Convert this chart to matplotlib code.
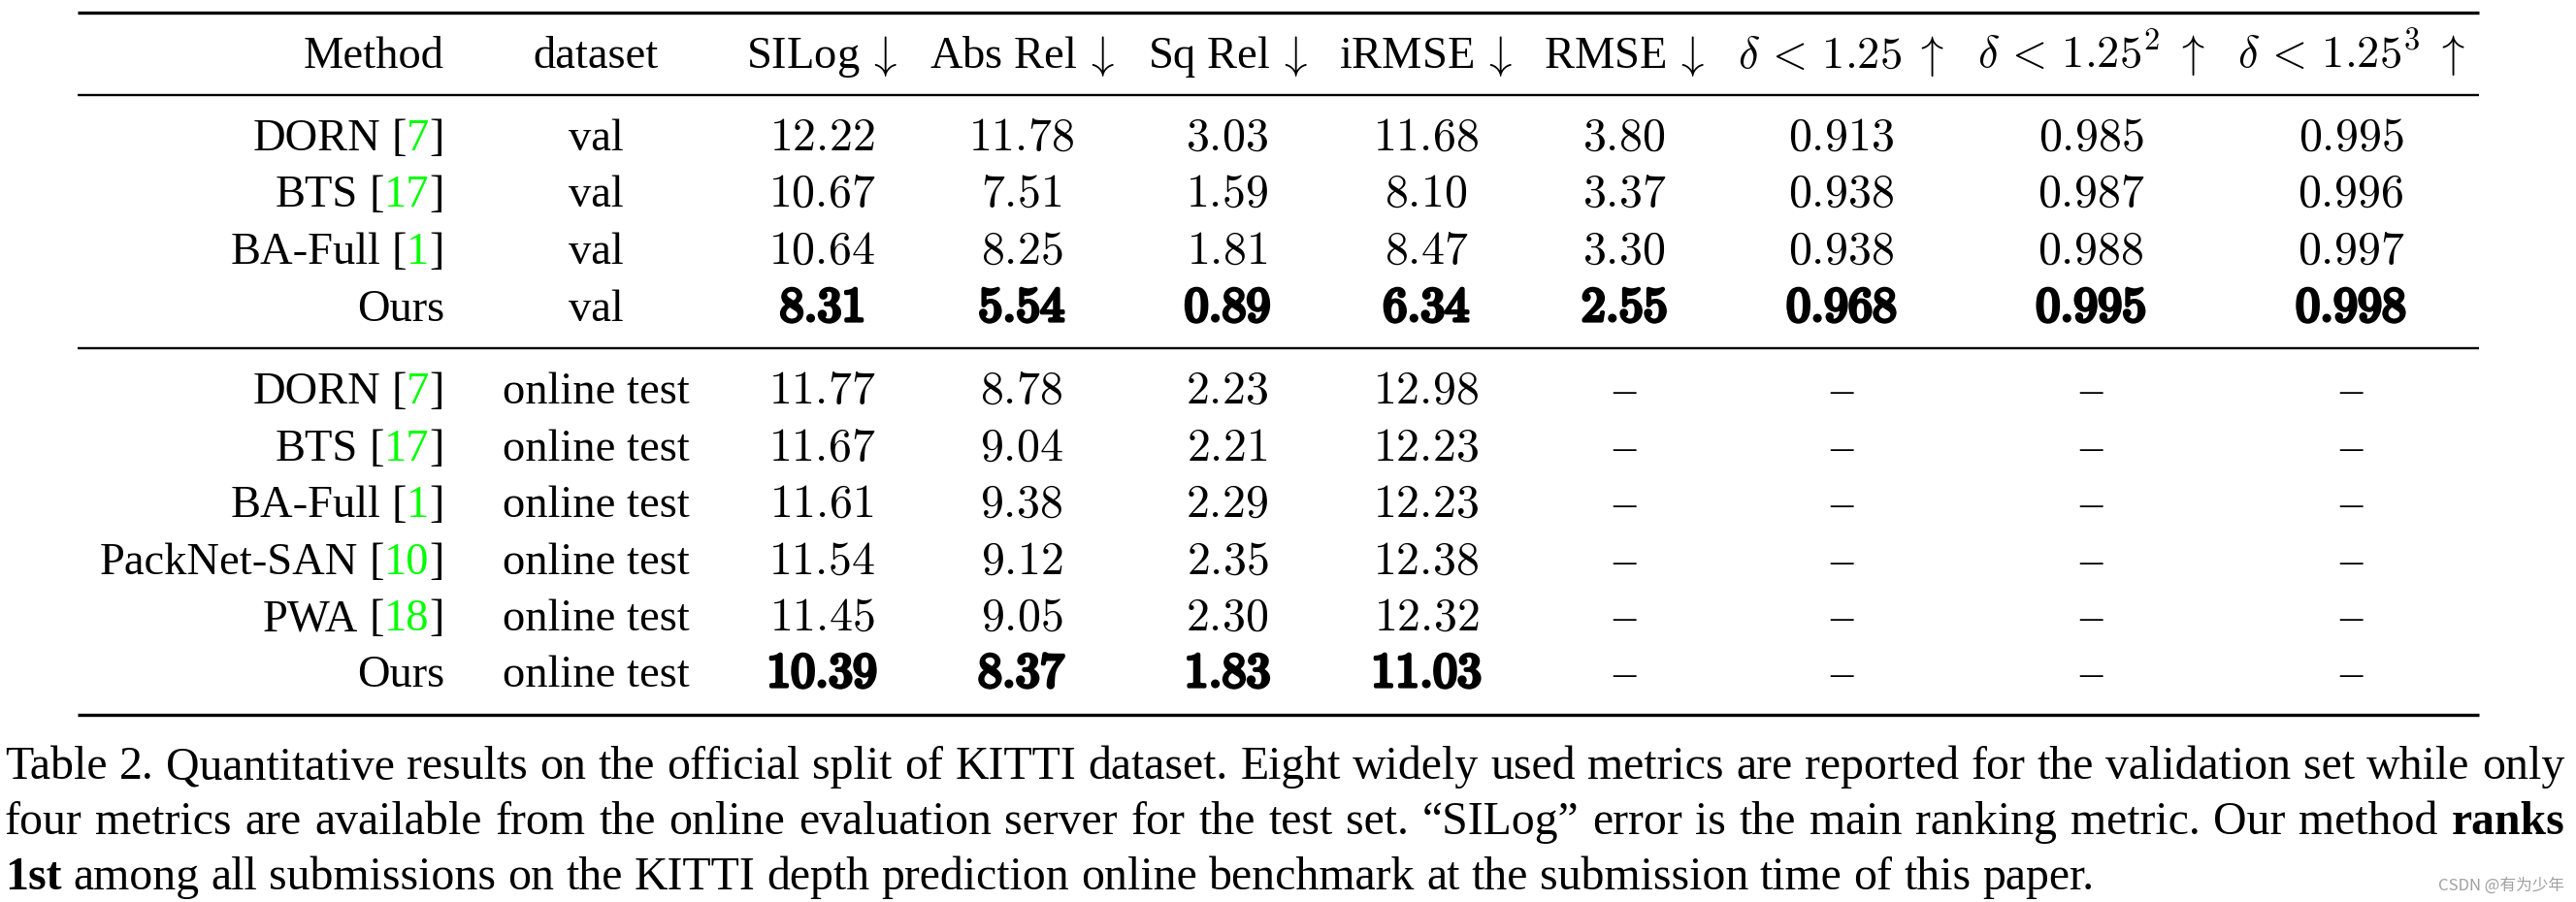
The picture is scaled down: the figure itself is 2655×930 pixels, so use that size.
import matplotlib
matplotlib.use("Agg")
import matplotlib.pyplot as plt
import matplotlib.patheffects as pe

plt.rcParams["mathtext.fontset"] = "cm"
plt.rcParams["font.family"] = ["Liberation Serif", "DejaVu Serif"]

# ---- table data ----
methods = ["DORN", "BTS", "BA-Full", "Ours",
           "DORN", "BTS", "BA-Full", "PackNet-SAN", "PWA", "Ours"]
refs = ["7", "17", "1", "", "7", "17", "1", "10", "18", ""]
datasets = ["val"] * 4 + ["online test"] * 6
silog = [12.22, 10.67, 10.64, 8.31, 11.77, 11.67, 11.61, 11.54, 11.45, 10.39]
abs_rel = [11.78, 7.51, 8.25, 5.54, 8.78, 9.04, 9.38, 9.12, 9.05, 8.37]
sq_rel = [3.03, 1.59, 1.81, 0.89, 2.23, 2.21, 2.29, 2.35, 2.30, 1.83]
irmse = [11.68, 8.10, 8.47, 6.34, 12.98, 12.23, 12.23, 12.38, 12.32, 11.03]
rmse = [3.80, 3.37, 3.30, 2.55] + [None] * 6
delta1 = [0.913, 0.938, 0.938, 0.968] + [None] * 6
delta2 = [0.985, 0.987, 0.988, 0.995] + [None] * 6
delta3 = [0.995, 0.996, 0.997, 0.998] + [None] * 6
bold_rows = [3, 9]

headers = ["Method", "dataset", r"SILog$\,\downarrow$", r"Abs Rel$\,\downarrow$",
           r"Sq Rel$\,\downarrow$", r"iRMSE$\,\downarrow$", r"RMSE$\,\downarrow$",
           r"$\delta\,<\,1.25\;\uparrow$", r"$\delta\,<\,1.25^2\;\uparrow$",
           r"$\delta\,<\,1.25^3\;\uparrow$"]

caption = [
    "Table 2. Quantitative results on the official split of KITTI dataset. Eight widely used "
    "metrics are reported for the validation set while only",
    "four metrics are available from the online evaluation server for the test set. "
    "\u201cSILog\u201d error is the main ranking metric. Our method **ranks**",
    "**1st** among all submissions on the KITTI depth prediction online benchmark at the "
    "submission time of this paper.",
]

# ---- layout ----
W, H = 2655, 930
TXT = 33.5
CAP = 34.4
NUM = 34.5
GREEN = "#00ff00"
col_x = [458, 614, 847, 1053, 1265, 1470, 1674, 1898, 2155, 2423]
header_y = 70
row_y = [155, 213, 272, 331, 416, 475, 533, 592, 650, 708]

fig = plt.figure(figsize=(W / 100, H / 100), dpi=100)
ax = fig.add_axes([0, 0, 1, 1])
ax.set_xlim(0, W)
ax.set_ylim(H, 0)
ax.axis("off")
renderer = fig.canvas.get_renderer()
# computer modern bold imitation: regular cm digits, thickened
thick = [pe.withStroke(linewidth=2.6, foreground="black")]


def width(t):
    return t.get_window_extent(renderer).width


# rules
ax.hlines([13, 737], 80, 2555, color="black", lw=2.4)
ax.hlines([98, 359], 80, 2555, color="black", lw=1.7)

# header
ax.text(col_x[0], header_y, headers[0], ha="right", va="baseline", fontsize=TXT)
for x, h in zip(col_x[1:], headers[1:]):
    ax.text(x, header_y, h, ha="center", va="baseline", fontsize=TXT)

space = TXT * 100 / 72 * 0.25
metrics = [silog, abs_rel, sq_rel, irmse, rmse, delta1, delta2, delta3]
for i, y in enumerate(row_y):
    # method name with green citation, right aligned
    x = col_x[0]
    if refs[i]:
        pieces = [("]", "black"), (refs[i], GREEN), ("[", "black")]
        for s, c in pieces:
            t = ax.text(x, y, s, ha="right", va="baseline", fontsize=TXT, color=c)
            x -= width(t)
        x -= space
    ax.text(x, y, methods[i], ha="right", va="baseline", fontsize=TXT)
    ax.text(col_x[1], y, datasets[i], ha="center", va="baseline", fontsize=TXT)
    for j, vals in enumerate(metrics):
        v = vals[i]
        if v is None:
            ax.text(col_x[j + 2], y, "\u2013", ha="center", va="baseline", fontsize=TXT)
            continue
        s = f"{v:.3f}" if j >= 5 else f"{v:.2f}"
        if i in bold_rows:
            ax.text(col_x[j + 2], y, f"${s}$", ha="center", va="baseline",
                    fontsize=NUM + 1.5, path_effects=thick)
        else:
            ax.text(col_x[j + 2], y, f"${s}$", ha="center", va="baseline", fontsize=NUM)

# caption, lines 1-2 justified
cap_y = [803, 860, 917]
x0, x1 = 5, 2643
cap_space = CAP * 100 / 72 * 0.25
for k, line in enumerate(caption):
    words = line.split(" ")
    arts = []
    for w in words:
        bold = w.startswith("**")
        w = w.strip("*")
        arts.append(ax.text(0, cap_y[k], w, ha="left", va="baseline", fontsize=CAP,
                            fontweight="bold" if bold else "normal"))
    ws = [width(a) for a in arts]
    if k < 2:
        gap = (x1 - x0 - sum(ws)) / (len(ws) - 1)
    else:
        gap = cap_space
    x = x0
    for a, w in zip(arts, ws):
        a.set_x(x)
        x += w + gap

ax.text(2643, 918, "CSDN @有为少年", ha="right", va="baseline", fontsize=12,
        color="#a0a0a0", family=["Noto Sans CJK SC", "DejaVu Sans"])

fig.savefig("out.png", dpi=100)
